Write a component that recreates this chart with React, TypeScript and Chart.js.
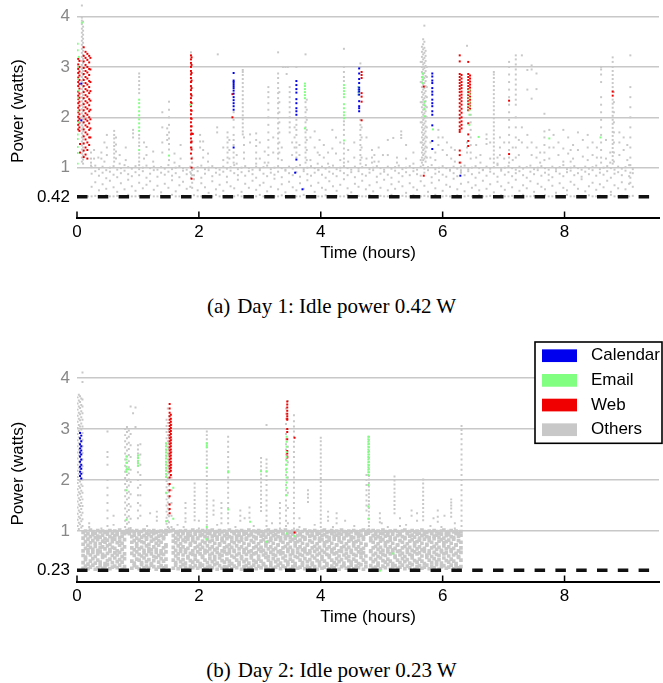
import { useEffect, useRef } from 'react';
import { Chart, registerables } from 'chart.js';

Chart.register(...registerables);

const FONT = '"Liberation Sans", Arial, Helvetica, sans-serif';

const xTicks = [0, 2, 4, 6, 8];
const timeRange = [0, 9.5];
const seriesNames = ['Calendar', 'Email', 'Web', 'Others'];
const seriesColors = ['#0000ee', '#80ff80', '#f00000', '#c8c8c8'];

const day1Idle = 0.42;
const day2Idle = 0.23;
const day1YTicks = [0.42, 1, 2, 3, 4];
const day2YTicks = [0.23, 1, 2, 3, 4];

// Each row: [time in 0.01 h, power readings in 0.01 W ...]
const day1Calendar = [
  [7, 267, 194],
  [257, 288, 273, 270, 266, 262, 258, 253, 247, 240, 234, 228, 222, 215, 140],
  [360, 272, 264, 256, 249, 236, 228, 218, 212, 205, 116],
  [358, 90],
  [370, 57],
  [463, 297, 287, 276, 268, 259, 255, 251, 245, 232, 222, 218, 212],
  [583, 287, 281, 273, 268, 258, 251, 245, 235, 228, 222, 212, 205, 184, 153, 137],
  [629, 84],
];

const day1Email = [
  [1, 346, 333, 300, 276, 238, 212, 166, 157, 141, 129, 108],
  [3, 320, 253, 190],
  [8, 388],
  [102, 235, 228, 220, 212, 204, 196, 188, 180, 173, 135],
  [151, 124],
  [186, 225],
  [374, 267, 262, 256, 250, 244, 238, 178],
  [438, 264, 258, 252, 246, 240, 226, 218, 210, 204, 198, 154],
  [461, 260, 255, 250, 245],
  [567, 287, 280, 275, 268],
  [570, 231, 224, 216, 202],
  [584, 176],
  [644, 254, 246, 238, 230, 222, 214, 205, 185],
  [659, 161],
  [775, 158],
  [859, 160],
];

const day1Web = [
  [2, 316, 305, 296, 288, 279, 270, 262, 251, 243, 236, 228, 219, 210, 201, 193, 185, 176],
  [4, 312, 300, 291, 283, 274, 266, 257, 247, 239, 231, 223, 214, 206, 197, 189, 180, 173],
  [5, 147, 130],
  [11, 339, 322, 311, 298, 286, 274, 262, 250, 238, 226, 214, 202, 190, 176, 162, 148, 134, 121],
  [14, 330, 318, 304, 292, 280, 268, 256, 244, 232, 220, 208, 196, 184, 170, 156, 140, 126],
  [17, 326, 314, 300, 289, 277, 265, 253, 241, 229, 217, 205, 193, 181, 166, 150, 135, 118],
  [20, 322, 309, 296, 284, 272, 260, 248, 236, 224, 212, 200, 188, 175, 160, 145],
  [22, 318, 295, 270, 252, 233, 215, 196, 178, 160],
  [187, 323, 315, 308, 300, 292, 285, 278, 270, 262, 254, 246, 238, 230, 222, 214, 206, 198, 190, 182, 174, 166, 158, 150, 140, 128],
  [188, 319, 304, 288, 273, 258, 243, 228, 213, 197, 182, 168, 152, 136, 118, 100, 78],
  [190, 167],
  [255, 246, 200],
  [467, 290, 284, 278, 248, 241, 231, 194],
  [569, 261, 84],
  [628, 323, 311, 286, 280, 274, 268, 262, 256, 250, 243, 236, 228, 221, 213, 205, 198, 190, 182, 175, 171, 134, 125, 110],
  [631, 284, 277, 270, 264, 258, 251, 245, 239, 232, 225, 217, 209, 200, 192, 185, 178],
  [642, 310, 286, 280, 274, 268, 262, 256, 250, 244, 238, 232, 226, 220, 214, 188, 166, 153, 143],
  [645, 283, 277, 271, 265, 259, 253, 247, 241, 235, 229, 223, 217],
  [709, 233, 127],
  [879, 251, 243],
];

const day1Others = [
  [8, 422, 398, 392, 385, 376, 368, 360, 352, 344, 336, 328, 320, 312, 304, 296, 288, 280, 272, 264, 256, 248, 240, 232, 224, 216, 208, 200, 192, 184, 176, 168, 160, 152, 144, 136, 128, 120, 112],
  [10, 390, 380, 372, 364, 356, 348, 340, 332, 324, 316, 308, 300, 292, 284, 276, 268, 260, 252, 244, 236, 228, 220, 212, 204, 196, 188, 180, 172, 164, 156, 148, 140, 132, 124, 116, 108],
  [23, 130, 118, 110, 104],
  [28, 118, 135],
  [35, 120],
  [40, 130, 118],
  [45, 112, 150],
  [49, 165, 140, 125],
  [61, 173, 165, 158, 150, 143, 136, 128, 120, 112],
  [64, 160, 146, 132, 118],
  [70, 125, 108],
  [80, 140, 115],
  [92, 175, 168, 160],
  [102, 287, 280, 272, 264, 256, 248, 165, 158, 150, 143, 128, 120, 112, 105],
  [110, 118, 150],
  [114, 141, 125],
  [125, 112, 132],
  [140, 210, 180, 150, 130],
  [148, 178, 165, 155],
  [151, 231, 215, 200, 185, 170, 158, 147, 136, 115],
  [160, 128, 110],
  [170, 145, 118],
  [187, 329, 88, 80],
  [189, 150, 140, 120, 110, 95, 85, 70, 60],
  [202, 165, 152, 140],
  [207, 152, 135, 120],
  [215, 128, 112],
  [230, 180, 170],
  [231, 325],
  [240, 140, 115],
  [247, 170, 160, 150, 140, 130, 120, 110],
  [250, 155, 135, 118],
  [257, 210, 195, 180, 165, 155, 145, 130, 120, 110],
  [262, 125, 108],
  [272, 294, 290, 284, 276, 268, 260, 252, 244, 236, 228, 220, 212, 204, 196, 188, 180, 172, 166],
  [274, 160, 145, 130, 118],
  [284, 166, 150],
  [294, 168, 155, 143, 130, 118, 108],
  [300, 150, 118],
  [308, 132, 110],
  [314, 260, 250, 240, 228, 215, 200, 185, 170, 155, 140, 125, 110],
  [322, 160, 130],
  [330, 329, 287, 278, 268, 258, 248, 238, 228, 218, 208, 198, 188, 178, 168, 158, 148, 138, 128, 118],
  [332, 250, 230, 210, 190, 170, 150, 130],
  [336, 140, 115],
  [338, 300],
  [342, 300],
  [344, 286],
  [346, 300],
  [349, 260, 250, 240, 230, 220, 210, 200, 190, 180, 170],
  [353, 150, 125],
  [357, 180, 160, 140],
  [360, 300, 195, 185, 175, 165, 150, 140, 130, 120],
  [365, 125, 145],
  [375, 325, 230, 220, 210, 200, 190, 180, 170, 160, 150, 140, 130, 120, 110],
  [377, 235, 215, 195, 175, 155, 135, 115],
  [383, 115, 160],
  [390, 172, 140],
  [395, 108, 130],
  [398, 155, 125],
  [405, 145, 120],
  [412, 130, 108],
  [419, 175, 138],
  [425, 160, 128],
  [432, 150, 115],
  [438, 336, 300, 290, 280, 272, 192, 185, 175, 165, 148, 138, 128, 118, 110],
  [445, 135, 112],
  [455, 150, 120],
  [465, 307, 300, 195, 185, 175, 165, 155, 145, 135, 125, 115, 108],
  [467, 180, 160, 140, 120],
  [475, 118, 160],
  [484, 135, 120, 110],
  [488, 125, 112],
  [495, 140, 112],
  [502, 125],
  [510, 155, 125],
  [519, 159],
  [525, 120, 110],
  [532, 172, 165, 159],
  [540, 145, 118],
  [552, 130, 108],
  [564, 310, 270, 230, 190, 150, 115],
  [566, 340, 330, 320, 310, 300, 290, 280, 270, 260, 250, 240, 230, 220, 210, 200, 190, 180, 170, 160, 150, 140, 130, 120, 110],
  [568, 355, 345, 335, 325, 315, 305, 295, 285, 275, 265, 255, 245, 235, 225, 215, 205, 195, 185, 175, 165, 155, 145, 135, 125, 115, 105],
  [570, 382, 350, 338, 328, 318, 308, 298, 288, 278, 268, 258, 248, 238, 228, 218, 208, 198, 188, 178, 168, 158, 148, 138, 128, 118],
  [572, 332, 322, 312, 302, 292, 282, 272, 262, 252, 242, 232, 222, 212, 202, 192, 182, 172, 162, 152, 142, 132, 122, 112],
  [574, 300, 280, 260, 240, 220, 200, 180, 160, 140, 120],
  [580, 150, 120],
  [588, 130, 115],
  [593, 175, 160, 145],
  [600, 160, 135],
  [607, 150, 125],
  [614, 140, 118],
  [620, 135, 112],
  [630, 110, 102, 95, 90],
  [640, 342, 150, 140, 130],
  [646, 205, 190, 175, 160, 145, 130, 118],
  [655, 145, 120],
  [662, 125, 110],
  [672, 166, 157, 147],
  [678, 150, 118],
  [684, 290, 285, 278, 270, 262, 254, 246, 238, 230, 222, 214, 206, 198, 190, 182, 174, 166, 158, 150, 142, 134, 126, 118, 110],
  [690, 120, 108],
  [694, 160, 140, 125],
  [701, 150, 118],
  [709, 310, 300, 285, 270, 255, 240, 225, 210, 195, 180, 165, 150, 135, 120, 110],
  [715, 140, 115],
  [720, 323, 315, 305, 295, 285, 275, 265, 255, 245, 235, 225, 200, 180, 160, 140, 120],
  [725, 155, 125],
  [730, 323, 180, 150],
  [739, 294, 255, 165, 140],
  [746, 303, 295, 237, 150, 125],
  [754, 287, 256, 140, 120],
  [760, 130, 110],
  [767, 207, 172, 160, 145, 130, 115],
  [775, 175, 140, 118],
  [782, 165, 140],
  [790, 150, 125],
  [798, 175, 138, 112],
  [806, 160, 128],
  [810, 135, 112],
  [814, 145, 118],
  [822, 170, 135],
  [830, 155, 122],
  [838, 165, 140, 115],
  [846, 150, 125],
  [853, 140, 120],
  [860, 300, 295, 285, 270, 240, 225, 210, 195, 180, 165, 150, 135, 120, 110],
  [868, 155, 118],
  [875, 130, 110],
  [879, 319, 310, 300, 292, 284, 276, 268, 260, 252, 235, 227, 219, 211, 203, 195, 187, 179, 171, 163, 155, 147, 139, 131, 123, 115, 108],
  [881, 250, 230, 210, 190, 170, 150, 130, 112],
  [890, 170, 150, 125],
  [897, 160, 135],
  [903, 145, 115],
  [908, 323, 260, 240, 220, 200, 180, 160, 140, 120, 105, 90, 80, 70],
];

// low-power readings (idle floor and the band below 1 W)
const day1Bulk = [
  [0, 43], [6, 43], [12, 43], [18, 43],
  [24, 43, 62, 88, 101], [30, 44, 71, 93, 104], [36, 43, 55, 84, 97], [42, 43, 67, 90, 102],
  [48, 45, 58, 79, 95], [54, 43, 74, 92, 100], [60, 43, 61, 86, 103], [66, 44, 52, 81, 96],
  [72, 43, 69, 89, 99], [78, 43, 57, 94, 105], [84, 46, 76, 87, 101], [90, 43, 63, 83, 98],
  [96, 43, 54, 91, 103], [102, 44, 70, 85, 97], [108, 43, 59, 93, 100], [114, 43, 66, 80, 104],
  [120, 45, 73, 88, 99], [126, 43, 56, 95, 102], [132, 43, 64, 82, 96], [138, 44, 51, 90, 101],
  [144, 43, 68, 86, 98], [150, 43, 60, 92, 105], [156, 46, 75, 84, 97], [162, 43, 53, 89, 100],
  [168, 43, 65, 81, 103], [174, 44, 72, 94, 99], [180, 43, 58, 87, 96], [186, 43, 62, 91, 102],
  [192, 45, 77, 85, 98], [198, 43, 55, 93, 101], [204, 43, 69, 80, 104], [210, 44, 61, 88, 97],
  [216, 43, 50, 95, 100], [222, 43, 73, 83, 103], [228, 46, 57, 90, 99], [234, 43, 66, 86, 96],
  [240, 43, 54, 92, 102], [246, 44, 71, 82, 98], [252, 43, 63, 94, 101], [258, 43, 59, 89, 105],
  [264, 45, 76, 85, 97], [270, 43, 52, 91, 100], [276, 43, 68, 84, 103], [282, 44, 60, 93, 99],
  [288, 43, 74, 87, 96], [294, 43, 56, 80, 102], [300, 46, 65, 95, 98], [306, 43, 70, 88, 101],
  [312, 43, 53, 83, 104], [318, 44, 62, 90, 97], [324, 43, 78, 86, 100], [330, 43, 57, 92, 103],
  [336, 45, 67, 81, 99], [342, 43, 51, 94, 96], [348, 43, 72, 89, 102], [354, 44, 61, 85, 98],
  [360, 43, 55, 91, 101], [366, 43, 69, 82, 105], [372, 46, 58, 93, 97], [378, 43, 75, 87, 100],
  [384, 43, 64, 84, 103], [390, 44, 52, 90, 99], [396, 43, 70, 95, 96], [402, 43, 60, 86, 102],
  [408, 45, 56, 80, 98], [414, 43, 73, 92, 101], [420, 43, 63, 88, 104], [426, 44, 54, 83, 97],
  [432, 43, 66, 94, 100], [438, 43, 77, 89, 103], [444, 46, 59, 85, 99], [450, 43, 51, 91, 96],
  [456, 43, 68, 81, 102], [462, 44, 62, 93, 98], [468, 43, 74, 87, 101], [474, 43, 57, 84, 105],
  [480, 45, 65, 90, 97], [486, 43, 53, 95, 100], [492, 43, 71, 82, 103], [498, 44, 60, 88, 99],
  [504, 43, 76, 92, 96], [510, 43, 55, 86, 102], [516, 46, 67, 80, 98], [522, 43, 58, 94, 101],
  [528, 43, 72, 89, 104], [534, 44, 63, 83, 97], [540, 43, 50, 91, 100], [546, 43, 69, 85, 103],
  [552, 45, 61, 93, 99], [558, 43, 56, 87, 96], [564, 43, 73, 84, 102], [570, 44, 64, 90, 98],
  [576, 43, 52, 95, 101], [582, 43, 70, 81, 105], [588, 46, 59, 88, 97], [594, 43, 75, 92, 100],
  [600, 43, 54, 86, 103], [606, 44, 66, 82, 99], [612, 43, 62, 94, 96], [618, 43, 78, 89, 102],
  [624, 45, 57, 83, 98], [630, 43, 68, 91, 101], [636, 43, 53, 85, 104], [642, 44, 71, 93, 97],
  [648, 43, 60, 87, 100], [654, 43, 65, 80, 103], [660, 46, 55, 90, 99], [666, 43, 74, 95, 96],
  [672, 43, 58, 84, 102], [678, 44, 67, 92, 98], [684, 43, 51, 88, 101], [690, 43, 72, 82, 105],
  [696, 45, 63, 94, 97], [702, 43, 56, 86, 100], [708, 43, 70, 91, 103], [714, 44, 61, 83, 99],
  [720, 43, 76, 89, 96], [726, 43, 54, 93, 102], [732, 46, 65, 85, 98], [738, 43, 59, 80, 101],
  [744, 43, 73, 92, 104], [750, 44, 52, 87, 97], [756, 43, 68, 95, 100], [762, 43, 62, 84, 103],
  [768, 45, 57, 90, 99], [774, 43, 75, 86, 96], [780, 43, 64, 81, 102], [786, 44, 50, 93, 98],
  [792, 43, 69, 88, 101], [798, 43, 60, 83, 105], [804, 46, 55, 91, 97], [810, 43, 72, 94, 100],
  [816, 43, 66, 85, 103], [822, 44, 58, 89, 99], [828, 43, 77, 82, 96], [834, 43, 53, 92, 102],
  [840, 45, 63, 87, 98], [846, 43, 70, 95, 101], [852, 43, 56, 84, 104], [858, 44, 67, 90, 97],
  [864, 43, 61, 86, 100], [870, 43, 74, 93, 103], [876, 46, 52, 80, 99], [882, 43, 65, 88, 96],
  [888, 43, 59, 91, 102], [894, 44, 71, 85, 98], [900, 43, 57, 94, 101], [906, 43, 68, 83, 105],
  [912, 44, 62, 89, 97],
];

const day2Calendar = [
  [5, 292, 282, 270, 262, 254, 246, 236, 226, 216, 208],
  [7, 287, 276, 266, 258, 250, 240, 230, 222, 212, 203],
];

const day2Email = [
  [81, 246, 240, 234, 226, 220, 216, 180, 122],
  [85, 221],
  [100, 248, 243, 238, 233, 228],
  [146, 272, 266, 260, 254, 248, 242, 236, 230, 224, 218, 212, 206, 175, 119],
  [158, 185, 124],
  [213, 272, 268, 264, 224, 108, 84],
  [248, 217, 215, 142],
  [284, 118],
  [302, 217],
  [311, 217, 79],
  [344, 285, 275, 265, 255, 245, 238, 230, 222, 215, 205, 195, 185, 170, 95],
  [357, 90],
  [478, 285, 280, 275, 270, 265, 260, 255, 250, 245, 240, 235, 230, 225, 220, 215, 210, 190, 148, 124],
  [497, 22],
  [519, 56],
];

const day2Web = [
  [152, 349, 340, 332, 325, 318, 312, 306, 300, 294, 288, 282, 276, 270, 264, 258, 252, 246, 240, 234, 228, 222, 216, 205, 192, 180, 168, 152, 143, 135],
  [154, 328, 320, 314, 308, 302, 296, 290, 284, 278, 272, 266, 260, 254, 248, 242, 236, 230, 224, 218, 210],
  [345, 354, 348, 342, 336, 330, 325, 320, 318, 300, 294, 280, 257, 252, 246, 244],
  [357, 283, 97],
];

const day2Others = [
  [1, 362, 350, 338, 326, 314, 302, 290, 278, 266, 254, 242, 230, 218, 206, 194, 182, 170, 158, 146, 134, 122, 110],
  [3, 367, 356, 344, 332, 320, 308, 296, 284, 272, 260, 248, 236, 224, 212, 200, 188, 176, 164, 152, 140, 128, 116, 104],
  [5, 364, 353, 341, 329, 317, 305, 293, 281, 269, 257, 245, 233, 221, 209, 197, 185, 173, 161, 149, 137, 125, 113],
  [7, 360, 347, 335, 323, 311, 299, 287, 275, 263, 251, 239, 227, 215, 203, 191, 179, 167, 155, 143, 131, 119, 107],
  [9, 411, 392, 358, 344, 331, 318, 305, 292, 279, 266, 253, 240, 227, 214, 201, 188, 175, 162, 149, 136, 123, 110],
  [20, 108, 115],
  [40, 105],
  [50, 295, 255, 245, 230, 200, 185, 170, 155, 140, 125, 110],
  [60, 112, 130],
  [79, 300, 288, 276, 264, 252, 240, 228, 216, 204, 192, 180, 168, 156, 144, 132, 120, 108],
  [82, 304, 294, 282, 270, 258, 246, 234, 222, 210, 198, 186, 174, 162, 150, 138, 126, 114, 102],
  [85, 297, 285, 273, 261, 249, 237, 225, 213, 201, 189, 177, 165, 153, 141, 129, 117, 105],
  [88, 344, 290, 268, 245, 220, 196, 172, 148, 124, 106],
  [92, 331],
  [96, 342, 304],
  [100, 268, 260, 252, 244, 236, 228, 215, 200, 185, 170, 155, 140, 125],
  [104, 270, 250, 230, 210, 190, 170, 150, 130],
  [115, 110],
  [120, 135],
  [131, 138, 128, 120],
  [147, 318, 306, 294, 282, 270, 258, 246, 234, 222, 210, 198, 186, 174, 162, 150, 138, 126, 114, 102],
  [149, 340, 312, 300, 288, 276, 264, 252, 240, 228, 216, 204, 192, 180, 168, 156, 144, 132, 120, 108],
  [151, 325, 297, 285, 273, 261, 249, 237, 225, 213, 201, 189, 177, 165, 153, 141, 129, 117, 105],
  [155, 309, 280, 255, 230, 205, 180, 155, 130, 108],
  [165, 112],
  [175, 108],
  [178, 155, 145, 135, 125, 118],
  [193, 193, 185, 177, 169, 161, 153, 145, 137, 129, 121],
  [200, 120, 105],
  [213, 295, 288, 280, 272, 264, 256, 248, 240, 232, 224, 216, 208, 200, 192, 184, 176, 168, 160, 152, 144, 136, 128, 120, 112, 104],
  [224, 160, 150, 140, 132],
  [230, 112],
  [237, 155, 145, 135, 125, 115],
  [248, 285, 275, 265, 255, 245, 235, 225, 215, 205, 195, 185, 175, 165, 155, 145, 135, 125, 115],
  [260, 108],
  [268, 140, 130, 120],
  [275, 125],
  [283, 146, 136, 126],
  [290, 110],
  [302, 243, 235, 227, 219, 211, 203, 195, 187, 179, 171, 163, 155, 147, 139],
  [311, 308, 240, 232, 224, 216, 208, 200, 190, 180, 170, 160, 150, 140, 130, 120, 110],
  [320, 115],
  [333, 155, 145, 135, 125, 115, 105],
  [343, 340, 330, 320, 310, 300, 290, 280, 270, 260, 250, 240, 230, 220, 210, 200, 190, 180, 170, 160, 150, 140, 130, 120, 110],
  [346, 355, 300, 265, 235, 205, 175, 145, 115],
  [356, 327, 315, 305, 295, 285, 275, 265, 255, 245, 235, 225, 215, 205, 195, 185, 175, 165, 155, 145, 135, 125, 115, 105],
  [365, 108, 125],
  [379, 180, 172, 165, 157],
  [390, 112],
  [400, 283, 276, 268, 260, 252, 244, 236, 228, 220, 212, 204, 196, 188, 180, 172, 164, 156, 148, 140, 132, 124, 116, 108],
  [412, 138, 128, 120],
  [420, 108],
  [426, 135, 125, 115],
  [440, 120],
  [455, 110],
  [475, 210, 200, 190, 180, 170, 160, 150, 140],
  [479, 285, 278, 271, 264, 257, 250, 243, 236, 229, 222, 215, 208, 201, 194, 187, 180, 173, 166, 159, 152, 145, 138, 131, 124, 117, 110, 103],
  [497, 135, 125, 117],
  [500, 115],
  [510, 108],
  [521, 207, 199, 191, 183, 175, 167, 159, 151, 143, 135],
  [530, 125, 110],
  [540, 112],
  [549, 140, 130],
  [558, 135, 120],
  [568, 201, 193, 185, 177, 169, 161, 153, 145, 137, 129, 121],
  [580, 110],
  [585, 125],
  [592, 140, 128, 118],
  [598, 108],
  [603, 130],
  [614, 162, 156, 150, 144, 136, 128],
  [620, 115, 105],
  [631, 306, 298, 290, 280, 270, 260, 250, 240, 230, 220, 210, 200, 190, 180, 170, 160, 150, 140, 130, 120, 110],
];

// dense band of readings between the idle floor and 1 W
const day2Bulk = [
  [10, 27, 38, 52, 61, 74, 86, 97], [14, 31, 44, 49, 66, 79, 91, 100], [18, 26, 35, 57, 63, 72, 84, 95],
  [22, 29, 41, 53, 68, 77, 89, 102], [26, 33, 46, 58, 64, 81, 93, 99], [30, 25, 37, 50, 70, 76, 87, 96],
  [34, 28, 43, 55, 62, 83, 90, 101], [38, 32, 39, 59, 67, 75, 88, 98], [42, 27, 48, 54, 69, 80, 92, 100],
  [46, 30, 36, 51, 65, 78, 85, 97], [50, 34, 42, 56, 71, 82, 94, 99], [54, 26, 45, 60, 63, 74, 89, 101],
  [58, 29, 38, 52, 68, 79, 86, 96], [62, 31, 47, 57, 66, 84, 91, 100], [66, 28, 40, 53, 61, 77, 93, 98],
  [70, 33, 44, 58, 72, 80, 87, 102], [74, 25, 39, 50, 64, 76, 90, 97], [78, 30, 46, 55, 69, 83, 95, 99],
  [82, 97, 101], [86, 95, 100],
  [90, 27, 41, 56, 67, 78, 89, 100], [94, 32, 37, 52, 63, 81, 92, 98], [98, 29, 45, 59, 70, 75, 86, 101],
  [102, 26, 43, 54, 65, 82, 94, 97], [106, 34, 38, 51, 68, 79, 88, 99], [110, 28, 47, 57, 62, 77, 91, 102],
  [114, 31, 40, 53, 71, 84, 87, 96], [118, 27, 44, 60, 66, 74, 93, 100], [122, 33, 36, 55, 63, 80, 89, 98],
  [126, 30, 42, 50, 69, 83, 95, 101], [130, 25, 48, 58, 64, 76, 86, 97], [134, 29, 39, 52, 72, 81, 90, 99],
  [138, 32, 46, 56, 61, 78, 92, 100], [142, 28, 41, 54, 67, 85, 88, 98], [146, 31, 45, 59, 70, 73, 94, 101],
  [150, 99], [154, 100],
  [158, 27, 43, 57, 68, 80, 91, 102], [162, 33, 38, 51, 62, 77, 86, 97], [166, 26, 46, 55, 71, 83, 93, 99],
  [170, 30, 40, 60, 65, 75, 89, 100], [174, 34, 44, 53, 69, 82, 95, 98], [178, 29, 37, 58, 63, 79, 87, 101],
  [182, 25, 47, 50, 66, 84, 90, 96], [186, 31, 42, 56, 72, 76, 92, 99], [190, 28, 39, 54, 61, 81, 88, 102],
  [194, 32, 45, 52, 67, 78, 94, 97], [198, 27, 41, 59, 70, 85, 86, 100], [202, 30, 36, 55, 64, 74, 91, 98],
  [206, 33, 48, 51, 68, 80, 93, 101], [210, 26, 43, 57, 62, 77, 89, 99], [214, 29, 38, 60, 71, 83, 87, 96],
  [218, 31, 46, 53, 65, 79, 95, 100], [222, 28, 40, 56, 69, 82, 90, 102], [226, 34, 44, 50, 63, 76, 92, 97],
  [230, 25, 37, 58, 66, 84, 88, 99], [234, 32, 47, 54, 72, 75, 94, 101], [238, 27, 42, 52, 61, 81, 86, 98],
  [242, 30, 39, 59, 67, 78, 91, 100], [246, 29, 45, 55, 70, 85, 93, 96], [250, 33, 41, 57, 64, 73, 89, 102],
  [254, 26, 36, 51, 68, 80, 87, 99], [258, 31, 48, 60, 62, 77, 95, 97], [262, 28, 43, 53, 71, 83, 90, 100],
  [266, 34, 38, 56, 65, 79, 92, 98], [270, 25, 46, 50, 69, 82, 88, 101], [274, 30, 40, 58, 63, 76, 94, 99],
  [278, 32, 44, 54, 66, 84, 86, 96], [282, 27, 37, 59, 72, 74, 91, 102], [286, 29, 47, 52, 61, 81, 93, 97],
  [290, 33, 42, 55, 67, 78, 89, 100], [294, 26, 39, 57, 70, 85, 87, 98], [298, 31, 45, 51, 64, 75, 95, 101],
  [302, 28, 41, 60, 68, 80, 90, 99], [306, 34, 36, 53, 62, 83, 92, 96], [310, 30, 48, 56, 71, 77, 88, 100],
  [314, 25, 43, 50, 65, 79, 94, 102], [318, 32, 38, 58, 69, 82, 86, 97], [322, 27, 46, 54, 63, 76, 91, 99],
  [326, 29, 40, 52, 66, 84, 93, 101], [330, 33, 44, 59, 72, 73, 89, 98], [334, 26, 37, 55, 61, 81, 87, 100],
  [338, 31, 47, 57, 67, 78, 95, 96], [342, 28, 42, 51, 70, 85, 90, 102], [346, 34, 39, 60, 64, 75, 92, 99],
  [350, 25, 45, 53, 68, 80, 88, 97], [354, 30, 41, 56, 62, 83, 94, 100], [358, 32, 36, 50, 71, 77, 86, 98],
  [362, 27, 48, 58, 65, 79, 91, 101], [366, 29, 43, 54, 69, 82, 93, 96], [370, 33, 38, 52, 63, 76, 89, 99],
  [374, 26, 46, 59, 66, 84, 87, 102], [378, 31, 40, 55, 72, 74, 95, 97], [382, 28, 44, 57, 61, 81, 90, 100],
  [386, 34, 37, 51, 67, 78, 92, 98], [390, 30, 47, 60, 70, 85, 88, 101], [394, 25, 42, 53, 64, 75, 94, 99],
  [398, 32, 39, 56, 68, 80, 86, 96], [402, 27, 45, 50, 62, 83, 91, 100], [406, 29, 41, 58, 71, 77, 93, 102],
  [410, 33, 36, 54, 65, 79, 89, 97], [414, 26, 48, 52, 69, 82, 87, 99], [418, 31, 43, 59, 63, 76, 95, 101],
  [422, 28, 38, 55, 66, 84, 90, 98], [426, 34, 46, 57, 72, 73, 92, 100], [430, 25, 40, 51, 61, 81, 88, 96],
  [434, 30, 44, 60, 67, 78, 94, 102], [438, 32, 37, 53, 70, 85, 86, 99], [442, 27, 47, 56, 64, 75, 91, 97],
  [446, 29, 42, 50, 68, 80, 93, 100], [450, 33, 39, 58, 62, 83, 89, 98], [454, 26, 45, 54, 71, 77, 87, 101],
  [458, 31, 41, 52, 65, 79, 95, 99], [462, 28, 36, 59, 69, 82, 90, 96], [466, 34, 48, 55, 63, 76, 92, 100],
  [470, 25, 43, 57, 66, 84, 88, 102], [474, 30, 38, 51, 72, 74, 94, 97], [478, 96, 101],
  [482, 32, 46, 60, 61, 81, 86, 99], [486, 27, 40, 53, 67, 78, 91, 101], [490, 29, 44, 56, 70, 85, 93, 98],
  [494, 33, 37, 50, 64, 75, 89, 100], [498, 26, 47, 58, 68, 80, 87, 96], [502, 31, 42, 54, 62, 83, 95, 102],
  [506, 28, 39, 52, 71, 77, 90, 99], [510, 34, 45, 59, 65, 79, 92, 97], [514, 25, 41, 55, 69, 82, 88, 100],
  [518, 30, 36, 57, 63, 76, 94, 98], [522, 32, 48, 51, 66, 84, 86, 101], [526, 27, 43, 60, 72, 73, 91, 99],
  [530, 29, 38, 53, 61, 81, 93, 96], [534, 33, 46, 56, 67, 78, 89, 100], [538, 26, 40, 50, 70, 85, 87, 102],
  [542, 31, 44, 58, 64, 75, 95, 97], [546, 28, 37, 54, 68, 80, 90, 99], [550, 34, 47, 52, 62, 83, 92, 101],
  [554, 25, 42, 59, 71, 77, 88, 98], [558, 30, 39, 55, 65, 79, 94, 100], [562, 32, 45, 57, 69, 82, 86, 96],
  [566, 27, 41, 51, 63, 76, 91, 102], [570, 29, 36, 60, 66, 84, 93, 99], [574, 33, 48, 53, 72, 74, 89, 97],
  [578, 26, 43, 56, 61, 81, 87, 100], [582, 31, 38, 50, 67, 78, 95, 98], [586, 28, 46, 58, 70, 85, 90, 101],
  [590, 34, 40, 54, 64, 75, 92, 99], [594, 25, 44, 52, 68, 80, 88, 96], [598, 30, 37, 59, 62, 83, 94, 100],
  [602, 32, 47, 55, 71, 77, 86, 102], [606, 27, 42, 57, 65, 79, 91, 97], [610, 29, 39, 51, 69, 82, 93, 99],
  [614, 33, 45, 60, 63, 76, 89, 101], [618, 26, 41, 53, 66, 84, 87, 98], [622, 31, 36, 56, 72, 73, 95, 100],
  [626, 28, 48, 50, 61, 81, 90, 96], [630, 30, 43, 58, 67, 78, 92, 99],
];

const toPoints = (rows: number[][]) =>
  rows.flatMap(([x, ...ys]) => ys.map((y) => ({ x: x / 100, y: y / 100 })));

const upTicks = {
  id: 'upTicks',
  afterDatasetsDraw(chart: any) {
    const { ctx, chartArea, scales } = chart;
    const xs = scales.x;
    ctx.save();
    ctx.strokeStyle = '#000';
    ctx.lineWidth = 1.5;
    xs.ticks.forEach((t: any) => {
      const px = xs.getPixelForValue(t.value);
      ctx.beginPath();
      ctx.moveTo(px, chartArea.bottom);
      ctx.lineTo(px, chartArea.bottom - 6.5);
      ctx.stroke();
    });
    ctx.restore();
  },
};

const boxLegend = {
  id: 'boxLegend',
  afterDraw(chart: any) {
    const ctx = chart.ctx;
    const x0 = 535, y0 = 7, w = 127, h = 101.3;
    ctx.save();
    ctx.fillStyle = '#fff';
    ctx.fillRect(x0, y0, w, h);
    ctx.strokeStyle = '#000';
    ctx.lineWidth = 1.6;
    ctx.strokeRect(x0, y0, w, h);
    ctx.font = '17px ' + FONT;
    ctx.textBaseline = 'middle';
    ctx.textAlign = 'left';
    seriesNames.forEach((name, i) => {
      const ds = chart.data.datasets.find((d: any) => d.label === name);
      const yc = y0 + 13.7 + i * 24.67;
      ctx.fillStyle = ds.backgroundColor;
      ctx.fillRect(542, yc - 6.35, 35, 12.7);
      ctx.fillStyle = '#000';
      ctx.fillText(name, 591, yc);
    });
    ctx.restore();
  },
};

function buildConfig(p: any) {
  const datasets: any[] = [
    {
      type: 'line',
      label: 'Idle',
      data: timeRange.map((x) => ({ x, y: p.idle })),
      borderColor: '#111',
      borderWidth: 3.5,
      borderDash: [10.5, 10.3],
      pointRadius: 0,
      showLine: true,
      fill: false,
      order: 0,
    },
    ...seriesNames.map((name, i) => ({
      type: 'scatter',
      label: name,
      data: toPoints(p.series[i]),
      backgroundColor: seriesColors[i],
      borderWidth: 0,
      pointStyle: 'rect',
      pointRadius: 1.4,
      order: i + 1,
    })),
    {
      type: 'scatter',
      label: 'Others',
      data: toPoints(p.bulk),
      backgroundColor: seriesColors[3],
      borderWidth: 0,
      pointStyle: 'rect',
      pointRadius: p.bulkRadius,
      order: 5,
    },
  ];
  const font = { family: FONT, size: 17 };
  return {
    type: 'scatter',
    data: { datasets },
    plugins: p.legend ? [upTicks, boxLegend] : [upTicks],
    options: {
      responsive: false,
      animation: false,
      events: [],
      layout: { padding: { top: p.padTop, right: 3.5, bottom: 0, left: 0 } },
      plugins: { legend: { display: false }, tooltip: { enabled: false } },
      scales: {
        x: {
          type: 'linear',
          position: 'bottom',
          min: 0,
          max: 9.55,
          afterBuildTicks: (s: any) => {
            s.ticks = xTicks.map((v) => ({ value: v }));
          },
          afterFit: (s: any) => {
            s.height = 47;
            s.paddingLeft = 0;
            s.paddingRight = 0;
          },
          grid: { display: false, drawTicks: false },
          border: { display: true, color: '#000', width: 2 },
          ticks: {
            autoSkip: false,
            maxRotation: 0,
            padding: 4.5,
            color: '#000',
            font,
            callback: (v: any) => String(v),
          },
          title: {
            display: true,
            text: 'Time (hours)',
            color: '#000',
            font,
            padding: { top: 0, bottom: 1.8 },
          },
        },
        y: {
          type: 'linear',
          position: 'left',
          min: 0,
          max: 4.25,
          afterBuildTicks: (s: any) => {
            s.ticks = p.yTicks.map((v: number) => ({ value: v }));
          },
          afterFit: (s: any) => {
            s.width = 77;
            s.paddingTop = 0;
            s.paddingBottom = 0;
          },
          grid: {
            drawTicks: false,
            lineWidth: 1.5,
            color: (c: any) => (c.tick && c.tick.value === p.idle ? 'rgba(0,0,0,0)' : '#c8c8c8'),
          },
          border: { display: false },
          ticks: {
            autoSkip: false,
            padding: 7,
            font,
            color: (c: any) => (c.tick && c.tick.value === p.idle ? '#000' : '#888888'),
            callback: (v: any) => String(v),
          },
          title: {
            display: true,
            text: 'Power (watts)',
            color: '#000',
            font,
            padding: { top: 7.8, bottom: 0 },
          },
        },
      },
    },
  };
}

function Panel(props: any) {
  const ref = useRef<HTMLCanvasElement | null>(null);
  useEffect(() => {
    const chart = new Chart(ref.current as any, buildConfig(props) as any);
    return () => chart.destroy();
  }, []);
  return (
    <canvas
      ref={ref}
      width={663}
      height={props.height}
      style={{ position: 'absolute', left: 0, top: props.top, width: 663, height: props.height }}
    />
  );
}

function Caption({ top, text }: { top: number; text: string }) {
  return (
    <div
      style={{
        position: 'absolute',
        left: 0,
        top,
        width: 663,
        textAlign: 'center',
        fontFamily: '"Liberation Serif", "Times New Roman", serif',
        fontSize: 21,
        lineHeight: '24px',
        color: '#000',
        whiteSpace: 'pre',
      }}
    >
      {text}
    </div>
  );
}

export default function App() {
  return (
    <div style={{ position: 'absolute', left: 0, top: 0, width: 663, height: 683, background: '#fff', overflow: 'hidden' }}>
      <Panel
        top={0}
        height={265}
        padTop={1}
        idle={day1Idle}
        yTicks={day1YTicks}
        series={[day1Calendar, day1Email, day1Web, day1Others]}
        bulk={day1Bulk}
        bulkRadius={1.4}
        legend={false}
      />
      <Caption top={294} text={'(a)\u2004Day 1: Idle power 0.42 W'} />
      <Panel
        top={335}
        height={294}
        padTop={30.25}
        idle={day2Idle}
        yTicks={day2YTicks}
        series={[day2Calendar, day2Email, day2Web, day2Others]}
        bulk={day2Bulk}
        bulkRadius={2.6}
        legend={true}
      />
      <Caption top={658} text={'(b)\u2004Day 2: Idle power 0.23 W'} />
    </div>
  );
}
